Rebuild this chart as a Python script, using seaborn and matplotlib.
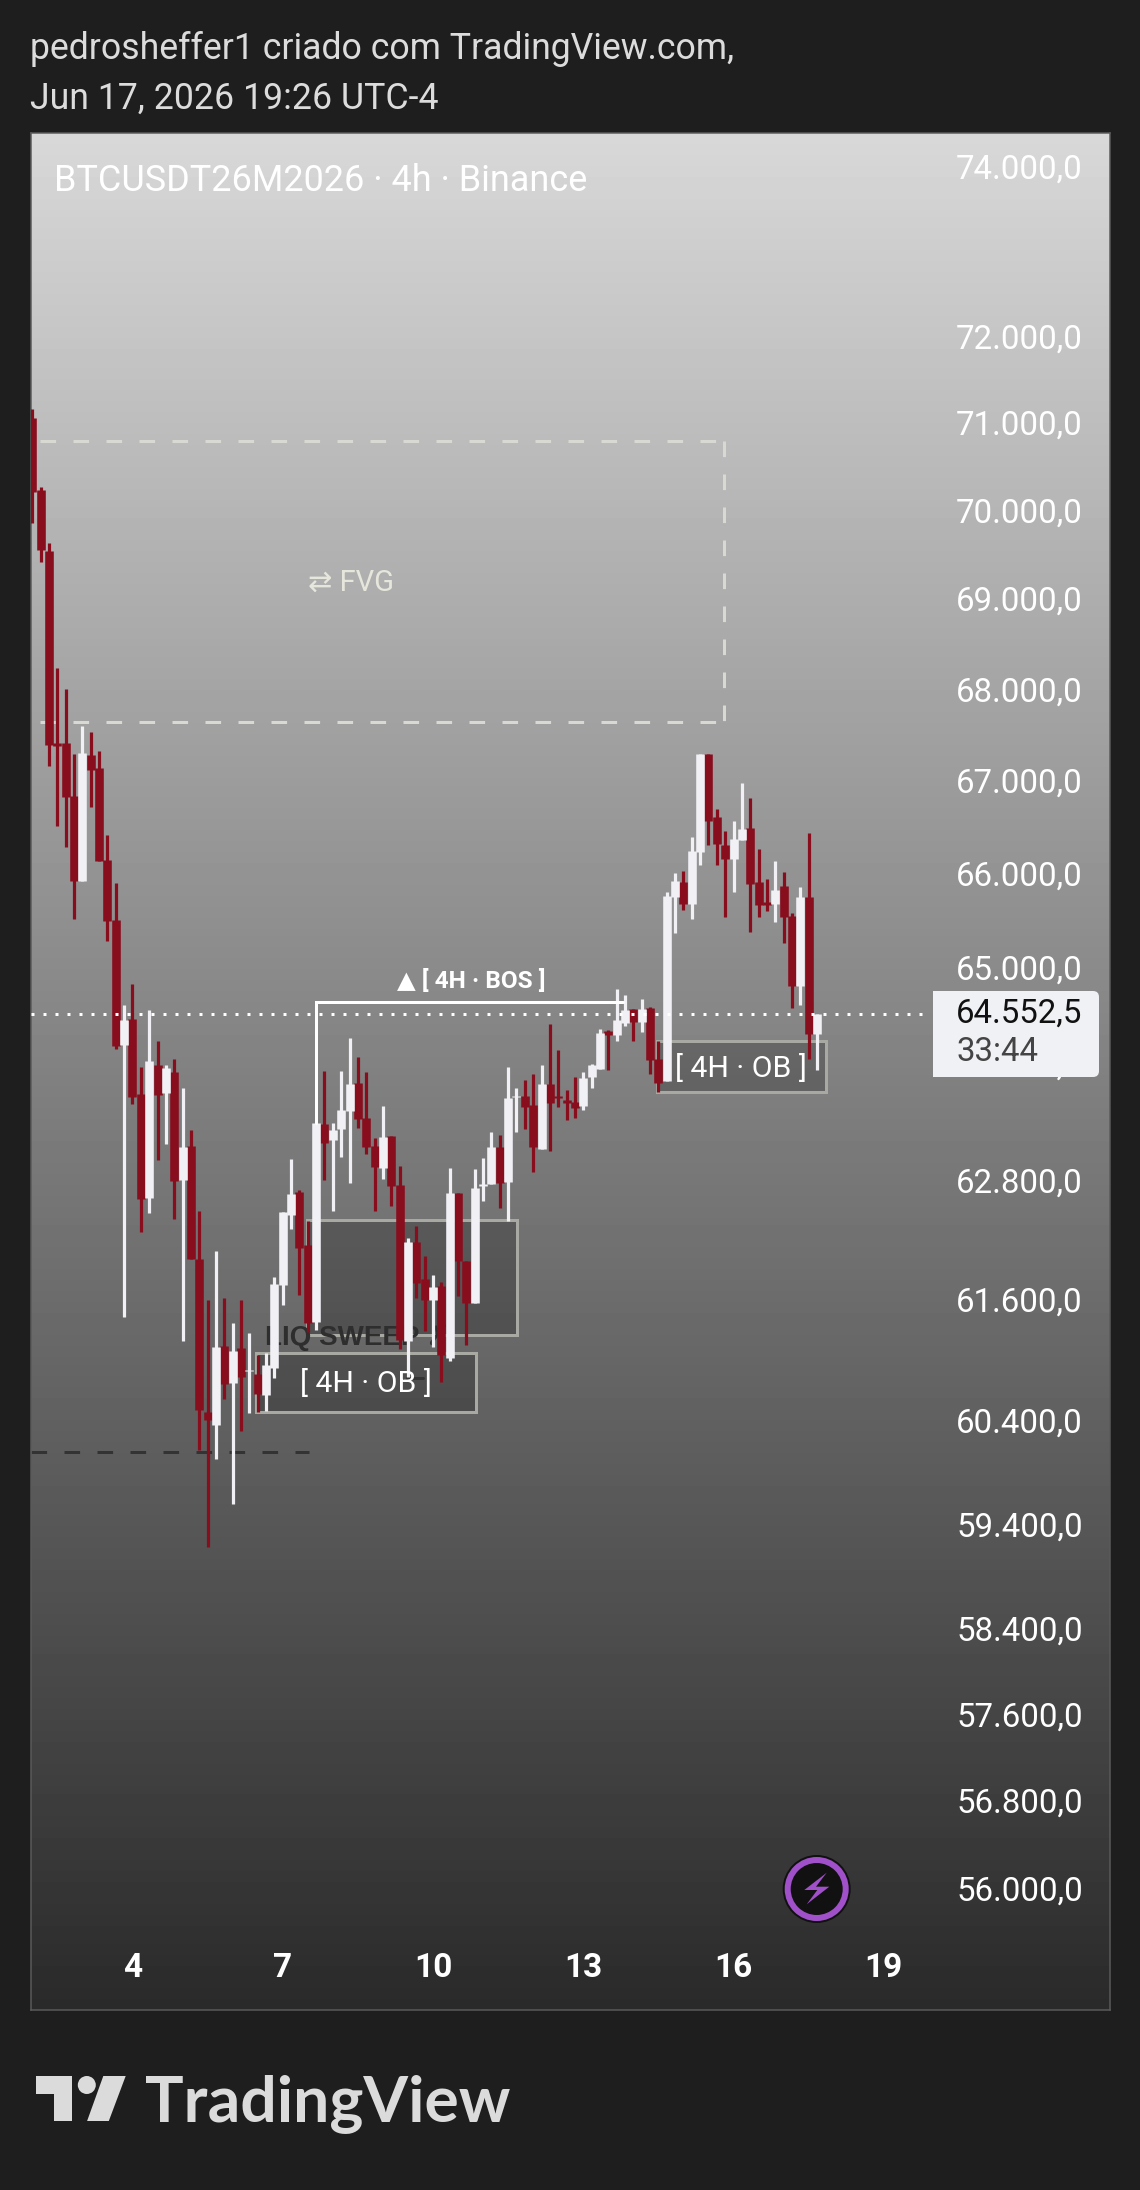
import numpy as np
import pandas as pd
import seaborn as sns
import matplotlib
matplotlib.use('Agg')
import matplotlib.pyplot as plt
from matplotlib.patches import Rectangle, Polygon, Circle, FancyBboxPatch
from matplotlib.transforms import ScaledTranslation

# 4h candles
opens = [71094, 70270, 69579, 67445, 67445, 66873, 65958, 67318, 67180, 66183,
         65543, 64229, 64501, 63721, 62657, 64022, 63733, 63951, 62838, 63186,
         62046, 60519, 60399, 61172, 60806, 61149, 60926, 60895, 60688, 60959,
         61781, 62490, 62718, 62182, 61415, 63413, 63249, 63361, 63546, 63835,
         63474, 63187, 62963, 63289, 62790, 61226, 62208, 61841, 61631, 61771,
         61055, 62708, 62025, 61604, 62780, 62800, 63177, 62820, 63690, 63700,
         63608, 63156, 63825, 63700, 63659, 63642, 63597, 63897, 63980, 64375,
         64334, 64462, 64605, 64472, 64615, 64084, 63859, 65790, 65947, 65713,
         66272, 67329, 66646, 66344, 66194, 66398, 66528, 65947, 65734, 65713,
         65905, 65585, 64846, 65787, 64344]
highs = [71197, 70304, 69669, 68273, 68041, 67329, 67635, 67569, 67361, 66452,
         65940, 64647, 64867, 63998, 64596, 64269, 64022, 64082, 63780, 63347,
         62521, 61635, 62122, 61647, 61399, 61628, 61301, 61085, 61103, 61866,
         62513, 63053, 62739, 62425, 63423, 63959, 63426, 63959, 64302, 64104,
         63949, 63269, 63597, 63289, 62983, 62248, 62374, 62072, 61881, 61811,
         62963, 62708, 62025, 62953, 63065, 63331, 63300, 64001, 63783, 63866,
         63928, 64022, 64449, 64177, 63763, 63898, 63952, 64032, 64396, 64386,
         64815, 64752, 64605, 64710, 64629, 64271, 65841, 66044, 66065, 66430,
         67329, 67329, 66732, 66495, 66603, 67013, 66851, 66301, 65980, 66172,
         66055, 65617, 65894, 66473, 64552.5]
lows = [69896, 69459, 67198, 66549, 66326, 65554, 65958, 66757, 66176, 65324,
        64188, 61457, 63614, 62316, 62509, 63045, 63210, 62443, 61228, 62046,
        60152, 59210, 60060, 60651, 59626, 60340, 60512, 60519, 60530, 60858,
        61586, 62346, 61681, 61316, 61333, 62842, 62529, 63078, 62809, 63375,
        63105, 62529, 62854, 62576, 61144, 60864, 61651, 61323, 61164, 60815,
        61028, 61674, 61184, 61601, 62630, 62800, 62559, 62428, 63334, 63361,
        62925, 63156, 63139, 63590, 63454, 63477, 63556, 63783, 63980, 63970,
        64274, 64428, 64274, 64368, 63928, 63742, 63859, 65408, 65649, 65554,
        66129, 66344, 66129, 65578, 65841, 66398, 65419, 65578, 65638, 65525,
        65299, 64619, 64650, 64084, 63970]
closes = [70251, 69590, 67427, 67416, 66862, 65958, 67343, 67155, 66176, 65536,
          64221, 64488, 63693, 62648, 64063, 63713, 63991, 62831, 63182, 62046,
          60545, 60445, 61160, 60795, 61122, 60871, 60941, 60699, 60986, 61789,
          62513, 62703, 62152, 61405, 63423, 63221, 63351, 63556, 63825, 63464,
          63180, 62976, 63282, 62780, 61233, 62208, 61804, 61631, 61765, 61085,
          62708, 62022, 61604, 62759, 62800, 63177, 62810, 63680, 63700, 63590,
          63180, 63825, 63628, 63680, 63631, 63582, 63887, 64022, 64358, 64334,
          64490, 64595, 64469, 64605, 64073, 63838, 65798, 65958, 65713, 66279,
          67329, 66606, 66355, 66194, 66409, 66517, 65926, 65702, 65705, 65862,
          65578, 64846, 65787, 64344, 64552.5]

price_ticks = [74000, 72000, 71000, 70000, 69000, 68000, 67000, 66000, 65000, 64000,
               62800, 61600, 60400, 59400, 58400, 57600, 56800, 56000]
day_ticks = [12, 30, 48, 66, 84, 102]
day_labels = ['4', '7', '10', '13', '16', '19']

last_price = 64552.5
fvg_zone = [0.92, 82.9, 67676, 70826]
ob_zones = [[32.86, 58.08, 61283, 62435],
            [26.8, 53.1, 60527, 61107],
            [74.85, 95.03, 63745, 64271]]
bos_level = [34, 70.74, 64680]
sweep_level = [-0.16, 33.1, 60136]

UP = '#f0f0f5'
DOWN = '#880e1e'
BG = '#1e1e1e'
FONT = ['Roboto', 'DejaVu Sans']
PX = 0.72  # points per pixel at dpi 100

sns.set_theme(style='white')
plt.rcParams['font.family'] = FONT

fig = plt.figure(figsize=(11.4, 21.9), dpi=100, facecolor=BG)
pane = [31 / 1140, 1 - 2010 / 2190, 1079 / 1140, 1877 / 2190]

# gradient behind the chart
bg = fig.add_axes(pane, zorder=0)
bg.imshow(np.linspace(216, 42, 512).reshape(-1, 1), cmap='gray', vmin=0, vmax=255, aspect='auto')
bg.set_axis_off()

ax = fig.add_axes(pane, zorder=1)
ax.patch.set_alpha(0)
ax.set_yscale('log')

df = pd.DataFrame({'candle': range(len(opens)), 'open': opens, 'high': highs, 'low': lows, 'close': closes})
df['dir'] = np.where(df['close'] >= df['open'], 'up', 'down')
wicks = df.melt(id_vars=['candle', 'dir'], value_vars=['high', 'low'], value_name='price')
bodies = df.melt(id_vars=['candle', 'dir'], value_vars=['open', 'close'], value_name='price')
palette = {'up': UP, 'down': DOWN}

for data, width, z in [(wicks, 3.2, 3), (bodies, 8.6, 3.1)]:
    sns.lineplot(data=data, x='candle', y='price', units='candle', estimator=None, hue='dir',
                 hue_order=['down', 'up'], palette=palette, linewidth=width * PX, errorbar=None,
                 legend=False, solid_capstyle='butt', zorder=z, ax=ax)

# zones under the candles
for x0, x1, p0, p1 in ob_zones:
    ax.add_patch(Rectangle((x0, p0), x1 - x0, p1 - p0, facecolor=(0, 0, 0, 0.22),
                           edgecolor='#a9a9a3', linewidth=3 * PX, zorder=1))

dash = (0, (5.2, 5.8))
x0, x1, p0, p1 = fvg_zone
ax.plot([x0, x1], [p1, p1], color='#d9d9d3', lw=3 * PX, ls=dash, zorder=1)
ax.plot([x0, x1], [p0, p0], color='#d9d9d3', lw=3 * PX, ls=dash, zorder=1)
ax.plot([x1, x1], [p1, p0], color='#d9d9d3', lw=3 * PX, ls=dash, zorder=1)
ax.text(38.2, 69220, '⇄ FVG', color='#e6e6dc', fontsize=21, ha='center', va='center', zorder=2)

ax.plot(sweep_level[:2], [sweep_level[2]] * 2, color='#333333', lw=3 * PX, ls=dash, zorder=2)
ax.text(27.9, 61253, 'LIQ SWEEP ✗', color='#2e2e2e', fontsize=20, fontweight='bold',
        family=['Liberation Sans', 'DejaVu Sans'], ha='left', va='center', zorder=2)
ax.plot([44.9, 46.8], [60858, 60858], color='#333333', lw=3 * PX, zorder=2)

ax.plot([bos_level[0], bos_level[0], bos_level[1]], [63423, bos_level[2], bos_level[2]],
        color='white', lw=3 * PX, solid_joinstyle='miter', zorder=3.2)
ax.text(52.6, 64902, '▲ [ 4H · BOS ]', color='white', fontsize=17.6, fontweight='bold', ha='center', va='center', zorder=4)
ax.text(39.96, 60800, '[ 4H · OB ]', color='white', fontsize=21.7, ha='center', va='center', zorder=4)
ax.text(84.85, 63990, '[ 4H · OB ]', color='white', fontsize=21.7, ha='center', va='center', zorder=4)

# last price line, stops short of the label
ax.plot([-0.16, 106.6], [last_price, last_price], color='white', lw=3 * PX, ls=(0, (1, 3)), zorder=3.5)

ax.set_xlim(-0.156, 129.1)
ax.set_ylim(54937, 74452)
ax.set_xlabel('')
ax.set_ylabel('')
ax.minorticks_off()
ax.yaxis.tick_right()
ax.set_yticks(price_ticks)
ax.set_yticklabels([f'{v:,.1f}'.replace(',', 'X').replace('.', ',').replace('X', '.') for v in price_ticks],
                   ha='right', fontsize=23.8, color='white')
ax.set_xticks(day_ticks)
ax.set_xticklabels(day_labels, fontsize=24, fontweight=600, color='white')
ax.tick_params(axis='y', length=0, pad=-19.6)
ax.tick_params(axis='x', length=0, pad=-42)
up_shift = ScaledTranslation(0, 4 / 100, fig.dpi_scale_trans)
for lab in ax.get_yticklabels():
    lab.set_transform(lab.get_transform() + up_shift)
for s in ax.spines.values():
    s.set_visible(True)
    s.set_color('#5a5a5a')
    s.set_linewidth(1.5 * PX)

# everything outside the data, in pixels
fg = fig.add_axes([0, 0, 1, 1], zorder=2)
fg.patch.set_alpha(0)
fg.set_xlim(0, 1140)
fg.set_ylim(2190, 0)
fg.set_axis_off()

fg.text(30, 49, 'pedrosheffer1 criado com TradingView.com,', color='#dcdcdc', fontsize=25.7, va='center')
fg.text(30, 99, 'Jun 17, 2026 19:26 UTC-4', color='#dcdcdc', fontsize=25.7, va='center')
fg.text(54, 181, 'BTCUSDT26M2026 · 4h · Binance', color='white', fontsize=25.9, va='center')

# last price label
fg.add_patch(FancyBboxPatch((935, 991), 164, 86, boxstyle='round,pad=0,rounding_size=6', fc='#f0f1f5', ec='none'))
fg.add_patch(Rectangle((933, 991), 20, 86, fc='#f0f1f5', ec='none'))
fg.text(1082, 1014, '64.552,5', color='#111111', fontsize=23.8, ha='right', va='center')
fg.text(957, 1052, '33:44', color='#444444', fontsize=23.8, ha='left', va='center')

# bolt icon
fg.add_patch(Circle((816.7, 1889), 34, fc='#111111', ec='none'))
fg.add_patch(Circle((816.7, 1889), 29, fc='none', ec='#a050c8', lw=6 * PX))
fg.add_patch(Polygon([(826.7, 1872.7), (804.3, 1890), (817.3, 1890), (806.7, 1904.3), (829.3, 1886.7), (816, 1886.7)],
                     fc='#a050c8', ec='none'))

# TradingView mark
LOGO = '#dbdbdb'
fg.add_patch(Polygon([(36.2, 2076), (72, 2076), (72, 2121), (54, 2121), (54, 2094), (36.2, 2094)], fc=LOGO, ec='none'))
fg.add_patch(Circle((86.8, 2085), 9, fc=LOGO, ec='none'))
fg.add_patch(Polygon([(103.3, 2076), (125.7, 2076), (108.8, 2121), (87.1, 2121)], fc=LOGO, ec='none'))
fg.text(145, 2121, 'TradingView', color=LOGO, fontsize=46.4, family='Lato', fontweight='bold', va='baseline')

fig.savefig('out.png', dpi=100, facecolor=BG)
